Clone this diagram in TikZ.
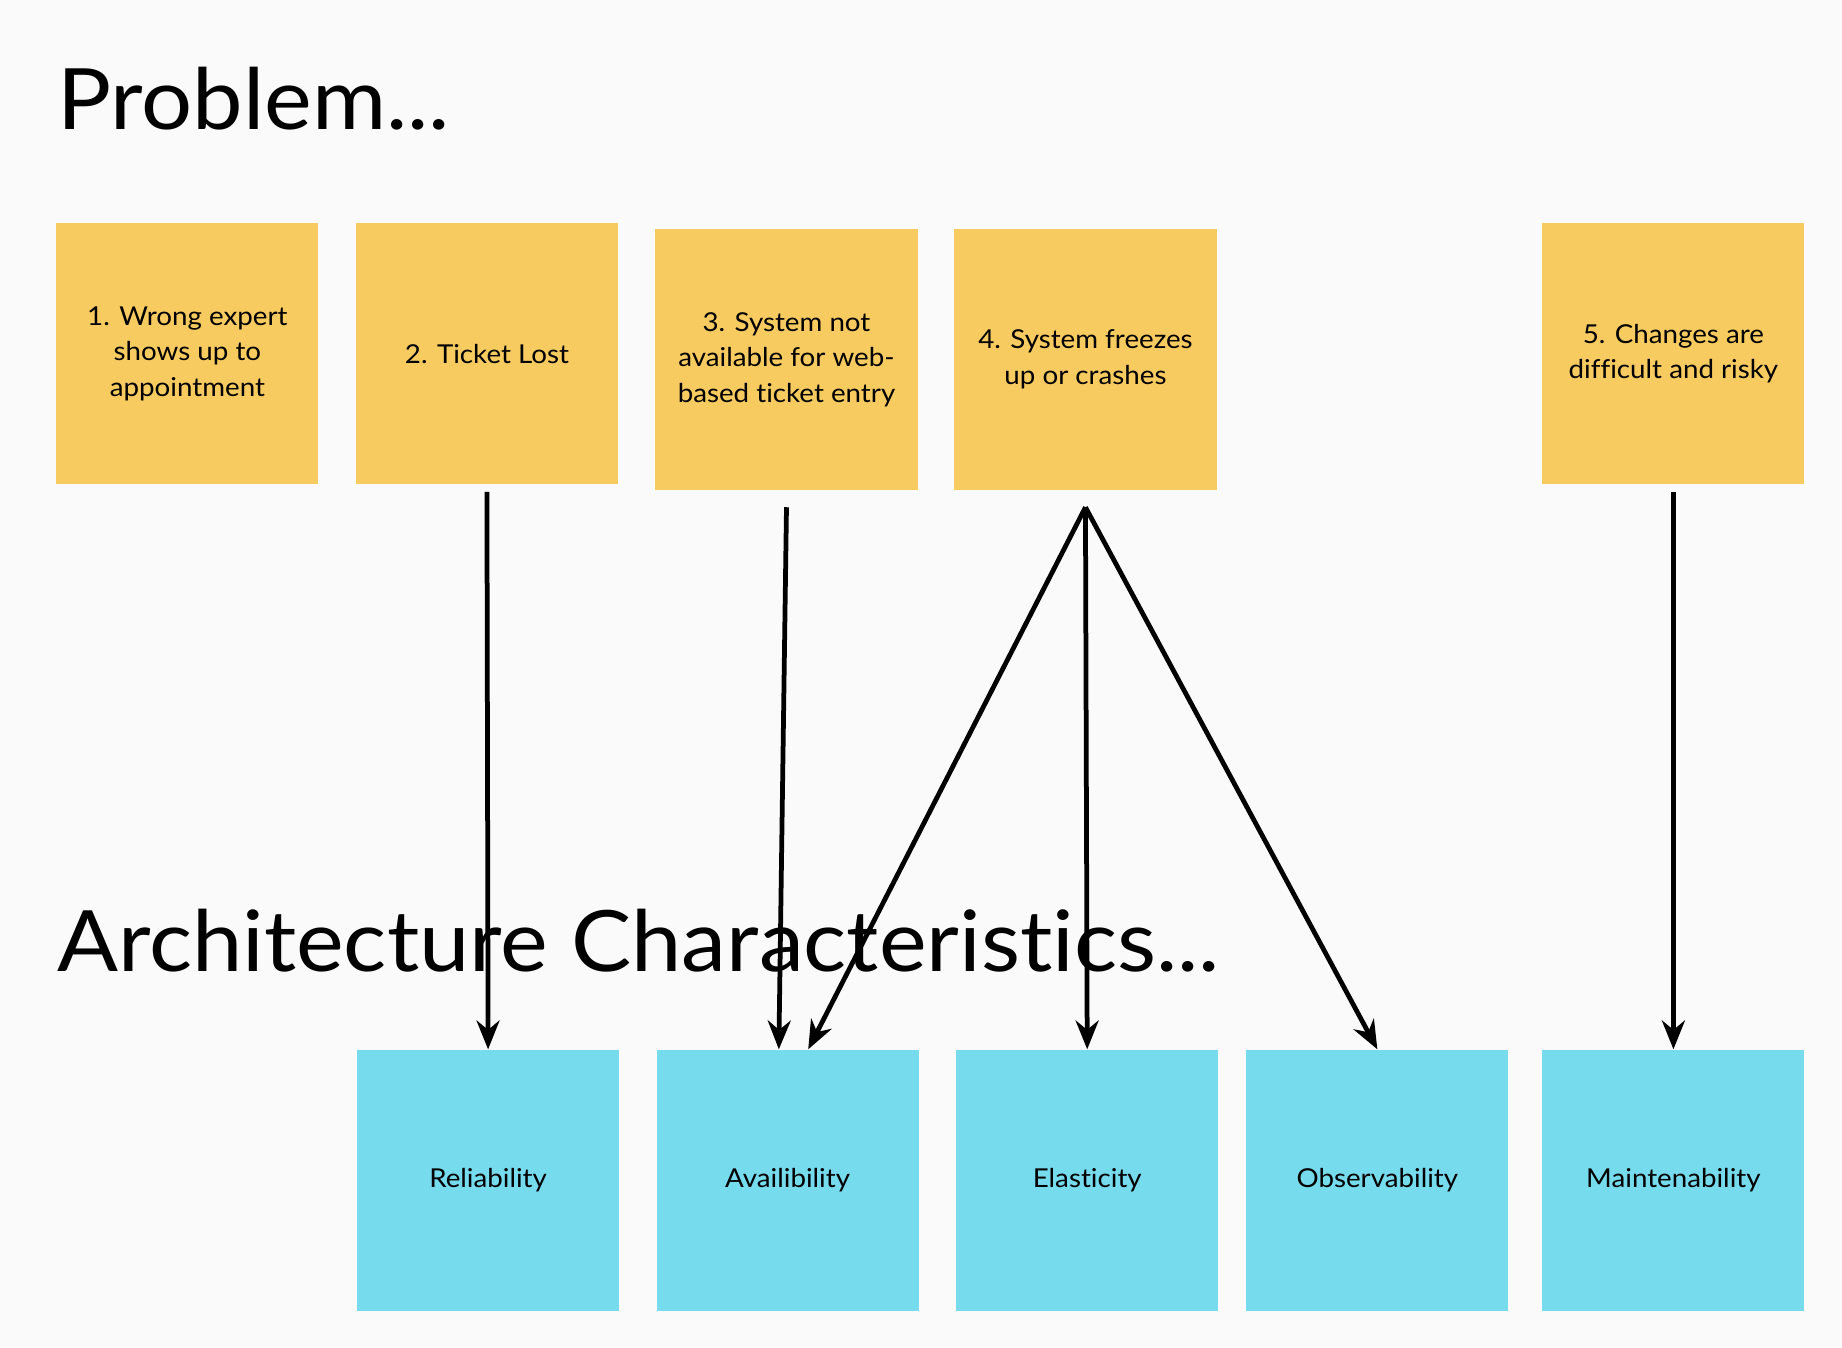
\documentclass[tikz,border=0pt]{standalone}
\usepackage{fontspec}
\setmainfont{Lato}[FakeStretch=1.065, Ligatures=NoCommon]
\usetikzlibrary{arrows.meta}
\definecolor{noteyellow}{HTML}{F8CB60}
\definecolor{traitblue}{HTML}{77DBEE}
\definecolor{paper}{HTML}{FAFAFA}
\tikzset{problem/.style={fill=noteyellow, minimum width=2.23cm, minimum height=2.22cm,
  inner sep=0pt, align=center, font=\fontsize{6.3}{8.6}\selectfont}}
\tikzset{trait/.style={problem, fill=traitblue}}
\tikzset{heading/.style={anchor=base west, inner sep=0pt, font=\fontsize{20.5}{24}\selectfont}}
\tikzset{link/.style={-{Stealth[length=0.245cm,width=0.195cm]}, line width=1.15pt}}

\begin{document}
\begin{tikzpicture}[x=0.01cm, y=-0.01cm]
      \fill [paper] (0, 0) rectangle (1568, 1147);
      \useasboundingbox (0, 0) rectangle (1568, 1147);
      \node [heading] (problems) at (48, 110) {Problem...};
      \node [heading] (traits) at (48, 827) {Architecture Characteristics...};

      \node [problem] (p1) at (159.5, 301) {1. Wrong expert\\shows up to\\appointment};
      \node [problem] (p2) at (414.5, 301) {2. Ticket Lost};
      \node [problem] (p3) at (669.5, 306) {3. System not\\available for web-\\based ticket entry};
      \node [problem] (p4) at (924, 306) {4. System freezes\\up or crashes};
      \node [problem] (p5) at (1424.5, 301) {5. Changes are\\difficult and risky};

      \node [trait] (reliability) at (415.5, 1005) {Reliability};
      \node [trait] (availability) at (670.5, 1005) {Availibility};
      \node [trait] (elasticity) at (925.5, 1005) {Elasticity};
      \node [trait] (observability) at (1172.5, 1005) {Observability};
      \node [trait] (maintainability) at (1424.5, 1005) {Maintenability};

      \draw [link] ([yshift=-0.06cm]p2.south) -- (reliability.north);
      \draw [link] ([yshift=-0.14cm]p3.south) -- ([xshift=-0.075cm]availability.north);
      \draw [link] ([yshift=-0.14cm]p4.south) -- ([xshift=0.175cm]availability.north);
      \draw [link] ([yshift=-0.14cm]p4.south) -- (elasticity.north);
      \draw [link] ([yshift=-0.14cm]p4.south) -- (observability.north);
      \draw [link] ([yshift=-0.06cm]p5.south) -- (maintainability.north);
\end{tikzpicture}
\end{document}
